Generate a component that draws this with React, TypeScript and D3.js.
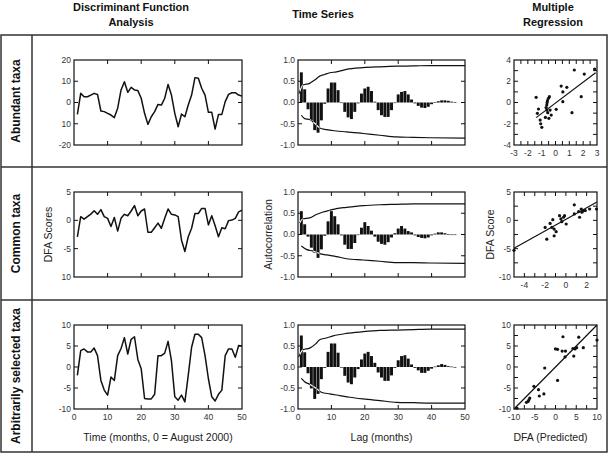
import React from 'react';
import * as d3 from 'd3';

const W = 610;
const H = 454;
const FONT = '"Liberation Sans", Arial, Helvetica, sans-serif';

// ---------- column / row headers ----------
const columnHeaders = [['Discriminant Function', 'Analysis'], ['Time Series'], ['Multiple', 'Regression']];
const rowLabels = ['Abundant taxa', 'Common taxa', 'Arbitrarily selected taxa'];

// ---------- DFA scores (month 1..50) ----------
const dfaAbundant = [-5.6, 4.3, 2.7, 2.7, 3.5, 4.3, 3.8, -4.0, -4.3, -5.1, -5.9, -7.1, -2.7, 5.9, 9.8, 4.8, 7.1, 5.9, 5.6, 2.0, -5.1, -10.3, -6.7, -4.3, -0.9, -1.2, 2.0, 8.5, 3.5, -5.1, -11.4, -5.4, -6.7, -1.2, 3.5, 11.7, 11.4, 6.7, 3.5, -4.6, -4.6, -12.5, -5.6, -5.6, 0.4, 3.8, 4.6, 4.6, 3.5, 3.0];
const dfaCommon = [-2.9, 0.65, 0.2, 0.65, 1.1, 1.7, 1.06, 1.9, 0.65, 0.35, -1.1, 0.5, -1.9, 0.35, 1.06, 0.8, 1.65, 2.6, 0.8, 1.65, 2.0, -2.1, -2.1, -1.3, -0.5, -1.4, 0.35, 2.0, 1.06, 0.95, 0.65, -3.5, -5.5, -2.9, -1.4, 1.2, 1.2, 2.1, 2.1, -0.8, 0.8, -0.95, -2.9, -1.3, -1.5, -0.05, 0.05, 0.35, 1.5, 1.8];
const dfaArbitrary = [-2.0, 3.9, 4.3, 3.6, 3.6, 4.5, 2.7, -3.2, -5.5, -6.7, -2.4, -3.2, 2.7, 4.4, 7.0, 3.1, 6.6, 7.2, 1.8, -0.4, -7.5, -7.6, -7.6, -6.5, 2.7, 2.7, 3.3, 6.1, 1.5, -7.1, -7.9, -6.7, -8.3, -2.0, 4.7, 7.8, 7.8, 7.0, 2.7, -2.8, -7.1, -8.1, -6.5, -5.5, 2.7, 4.3, 4.3, 2.3, 5.1, 5.0];

const dfaYDomains = [[-20, 20], [-10, 5], [-10, 10]];
const dfaYTicks = [[20, 10, 0, -10, -20], [5, 0, -5, -10], [10, 5, 0, -5, -10]];
const dfaYLabels = [['20', '10', '0', '10', '-20'], ['5', '0', '-5', '10'], ['10', '5', '0', '-5', '-10']];
const monthTicks = [0, 10, 20, 30, 40, 50];

// ---------- autocorrelation (lag 1..47) ----------
const acfAbundant = [0.71, 0.31, -0.16, -0.42, -0.65, -0.71, -0.42, -0.03, 0.33, 0.47, 0.47, 0.29, 0.0, -0.22, -0.35, -0.39, -0.22, -0.02, 0.21, 0.33, 0.37, 0.27, 0.02, -0.18, -0.30, -0.34, -0.34, -0.18, 0.0, 0.19, 0.25, 0.27, 0.19, 0.07, -0.02, -0.08, -0.12, -0.13, -0.10, -0.04, 0.01, 0.03, 0.05, 0.05, 0.04, 0.02, 0.01];
const acfCommon = [0.55, 0.24, -0.05, -0.31, -0.43, -0.55, -0.35, -0.03, 0.31, 0.55, 0.43, 0.24, -0.02, -0.24, -0.34, -0.34, -0.20, 0.0, 0.16, 0.29, 0.20, 0.09, -0.05, -0.17, -0.22, -0.24, -0.18, -0.07, 0.03, 0.14, 0.20, 0.14, 0.08, 0.05, -0.02, -0.06, -0.08, -0.09, -0.07, -0.02, 0.02, 0.05, 0.05, 0.03, 0.01, 0.0, 0.0];
const acfArbitrary = [0.75, 0.35, -0.15, -0.51, -0.76, -0.64, -0.29, -0.02, 0.36, 0.56, 0.56, 0.34, 0.0, -0.21, -0.37, -0.41, -0.25, -0.05, 0.18, 0.32, 0.36, 0.26, 0.10, -0.13, -0.25, -0.33, -0.33, -0.20, -0.02, 0.16, 0.26, 0.28, 0.20, 0.06, -0.02, -0.08, -0.14, -0.14, -0.09, -0.04, 0.01, 0.04, 0.07, 0.05, 0.02, 0.01, 0.0];

// confidence bands: lag positions and values
const upperLagsAbundant = [0.3, 1.5, 3.5, 5, 6.5, 8, 9.5, 11.5, 14.5, 19.5, 24.5, 29.5, 34.5, 39.5, 50];
const upperAbundant = [0.21, 0.41, 0.45, 0.53, 0.62, 0.66, 0.70, 0.72, 0.78, 0.82, 0.84, 0.855, 0.86, 0.87, 0.87];
const lowerLagsAbundant = [1, 2, 3.5, 5, 6.5, 8.5, 11.5, 14.5, 19.5, 24.5, 29.5, 34.5, 39.5, 50];
const lowerAbundant = [-0.30, -0.38, -0.40, -0.49, -0.60, -0.64, -0.67, -0.69, -0.73, -0.77, -0.81, -0.82, -0.83, -0.84];

const upperLagsCommon = [0.5, 1.5, 3.5, 5.5, 7.5, 9.5, 11.5, 14.5, 19.5, 24.5, 29.5, 34.5, 39.5, 50];
const upperCommon = [0.27, 0.37, 0.39, 0.47, 0.53, 0.57, 0.61, 0.64, 0.68, 0.70, 0.71, 0.72, 0.72, 0.72];
const lowerLagsCommon = [1, 2.5, 4.5, 6.5, 8.5, 11.5, 14.5, 19.5, 24.5, 29.5, 34.5, 39.5, 50];
const lowerCommon = [-0.27, -0.35, -0.39, -0.45, -0.48, -0.52, -0.57, -0.60, -0.63, -0.66, -0.66, -0.67, -0.68];

const upperLagsArbitrary = [0.2, 1.5, 3.5, 5.3, 6.5, 8.5, 10.5, 14.5, 19.5, 24.5, 29.5, 34.5, 39.5, 50];
const upperArbitrary = [0.24, 0.41, 0.45, 0.55, 0.65, 0.69, 0.74, 0.80, 0.84, 0.87, 0.88, 0.89, 0.90, 0.90];
const lowerLagsArbitrary = [1, 2, 3.5, 5.5, 7, 9.5, 12.5, 15.5, 19.5, 24.5, 29.5, 34.5, 39.5, 50];
const lowerArbitrary = [-0.27, -0.35, -0.41, -0.51, -0.60, -0.64, -0.68, -0.72, -0.76, -0.80, -0.84, -0.85, -0.86, -0.86];

const acfTicks = [1, 0.5, 0, -0.5, -1];
const acfLabels = ['1.0', '0.5', '0.0', '-0.5', '-1.0'];
const lagTicks = [0, 10, 20, 30, 40, 50];

// ---------- multiple regression scatter ----------
const scAbundantX = [-1.40, -1.23, -1.31, -1.11, -1.07, -0.99, -0.44, -0.51, -0.58, -0.61, -0.63, -0.68, -0.63, -0.56, -0.73, -0.48, -0.31, -0.39, 0.05, 0.41, 0.53, 0.82, 0.53, 1.36, 1.19, 1.86, 2.08, 2.83];
const scAbundantY = [0.49, -0.61, -1.02, -1.65, -2.00, -2.34, 0.55, 0.39, 0.17, -0.02, -0.24, -0.48, -0.71, -0.96, -1.40, -1.49, -1.18, -0.71, -0.64, 1.55, 1.00, 1.43, 0.08, 3.06, -0.96, 0.55, 2.68, 3.15];
const scCommonX = [-5.0, -2.0, -1.84, -1.26, -1.35, -1.13, -0.94, -1.13, -0.61, -0.48, -0.39, -0.23, -0.13, 0.03, 0.81, 0.81, 1.23, 1.32, 1.48, 1.55, 1.71, 1.87, 2.29, 2.95, -1.52];
const scCommonY = [-5.3, -1.25, -3.33, 0.12, -1.25, -1.55, -2.0, -2.74, 0.83, 0.24, -0.24, 0.54, 0.83, -0.65, 2.74, 1.13, 1.55, 0.54, 2.0, 1.43, 1.73, 1.73, 2.0, 2.0, -0.54];
const scArbitraryX = [-9.3, -7.0, -6.6, -6.4, -6.2, -5.2, -4.1, -3.9, -2.8, -2.6, 0.5, 0.0, 0.5, 1.6, 1.8, 2.4, 2.3, 4.2, 4.7, 5.1, 4.4, 5.6, 6.7, 10.0];
const scArbitraryY = [-9.8, -8.4, -8.2, -7.8, -7.4, -4.6, -5.4, -6.9, -6.4, -0.24, -3.2, 4.3, 4.2, 3.8, 7.2, 3.8, 2.4, 4.4, 4.3, 4.6, 2.6, 7.1, 4.6, 6.4];

// fitted lines: [x start, x end], [slope, intercept]
const fitRange = [[-1.4, 2.9], [-5, 3], [-10, 10]];
const fitCoef = [[0.98, -0.05], [1.02, 0.16], [1.0, 0.0]];

const scXDomains = [[-3, 3], [-5, 3], [-10, 10]];
const scYDomains = [[-4, 4], [-10, 5], [-10, 10]];
const scXTicks = [[-3, -2, -1, 0, 1, 2, 3], [-4, -2, 0, 2], [-10, -5, 0, 5, 10]];
const scYTicks = [[4, 2, 0, -2, -4], [5, 0, -5, -10], [10, 5, 0, -5, -10]];
const scXMinor = [0.5, 1, 2.5];
const scYMinor = [1, 2.5, 2.5];

// ---------- layout ----------
const COL_DFA = [74, 242];
const COL_TS = [298, 465];
const COL_SC = [514, 597];
const ROW_Y = [[60, 145], [192, 277], [325, 409]];
const ROW_BANDS = [[35, 167], [167, 300], [300, 452]];
const TICK = 4;
const TICK_FS = 8.5;
const TICK_COLOR = '#333';

type Num = number;

function Frame({ x0, x1, y0, y1 }: { x0: Num; x1: Num; y0: Num; y1: Num }) {
  return <rect x={x0} y={y0} width={x1 - x0} height={y1 - y0} fill="none" stroke="#111" strokeWidth={1.2} />;
}

function InnerTicks({ xs, ys, xt, yt, x0, x1, y0, y1 }: any) {
  return (
    <g stroke="#111" strokeWidth={1}>
      {xt.map((t: number, i: number) => (
        <g key={'x' + i}>
          <line x1={xs(t)} x2={xs(t)} y1={y0} y2={y0 + TICK} />
          <line x1={xs(t)} x2={xs(t)} y1={y1} y2={y1 - TICK} />
        </g>
      ))}
      {yt.map((t: number, i: number) => (
        <g key={'y' + i}>
          <line x1={x0} x2={x0 + TICK} y1={ys(t)} y2={ys(t)} />
          <line x1={x1} x2={x1 - TICK} y1={ys(t)} y2={ys(t)} />
        </g>
      ))}
    </g>
  );
}

function DFAPanel({ row, values }: { row: number; values: number[] }) {
  const [x0, x1] = COL_DFA;
  const [y0, y1] = ROW_Y[row];
  const xs = d3.scaleLinear().domain([0, 50]).range([x0, x1]);
  const ys = d3.scaleLinear().domain(dfaYDomains[row]).range([y1, y0]);
  const months = values.map((_, i) => i + 1);
  const line = d3.line<number>().x((_, i) => xs(months[i])).y((d) => ys(d));
  const showX = row === 2;
  return (
    <g>
      <path d={line(values) || ''} fill="none" stroke="#111" strokeWidth={1.5} strokeLinejoin="round" />
      <InnerTicks xs={xs} ys={ys} xt={monthTicks.filter((t) => t > 0 && t < 50)} yt={dfaYTicks[row].filter((t) => t !== dfaYDomains[row][0] && t !== dfaYDomains[row][1])} x0={x0} x1={x1} y0={y0} y1={y1} />
      <Frame x0={x0} x1={x1} y0={y0} y1={y1} />
      {dfaYTicks[row].map((t, i) => (
        <text key={i} x={x0 - 3} y={ys(t)} dy="0.35em" textAnchor="end" fontSize={TICK_FS} fill={TICK_COLOR}>{dfaYLabels[row][i]}</text>
      ))}
      {showX && monthTicks.map((t, i) => (
        <text key={i} x={xs(t)} y={y1 + 11} textAnchor="middle" fontSize={TICK_FS} fill={TICK_COLOR}>{t}</text>
      ))}
    </g>
  );
}

function TSPanel({ row, acf, upLags, up, loLags, lo }: { row: number; acf: number[]; upLags: number[]; up: number[]; loLags: number[]; lo: number[] }) {
  const [x0, x1] = COL_TS;
  const [y0, y1] = ROW_Y[row];
  const xs = d3.scaleLinear().domain([0, 50]).range([x0, x1]);
  const ys = d3.scaleLinear().domain([-1, 1]).range([y1, y0]);
  const lags = acf.map((_, i) => i + 1);
  const bw = xs(0.88) - xs(0);
  const band = d3.line<[number, number]>().x((d) => xs(d[0])).y((d) => ys(d[1])).curve(d3.curveMonotoneX);
  const upPath = band(upLags.map((l, i) => [l, up[i]] as [number, number])) || '';
  const loPath = band(loLags.map((l, i) => [l, lo[i]] as [number, number])) || '';
  const clipId = 'bars' + row;
  const bars = acf.map((v, i) => ({ x: xs(lags[i]) - bw / 2, y: ys(Math.max(0, v)), h: Math.max(0.6, Math.abs(ys(v) - ys(0))) }));
  return (
    <g>
      <defs>
        <clipPath id={clipId}>
          {bars.map((b, i) => <rect key={i} x={b.x} y={b.y} width={bw} height={b.h} />)}
        </clipPath>
      </defs>
      {bars.map((b, i) => <rect key={i} x={b.x} y={b.y} width={bw} height={b.h} fill="#111" />)}
      <path d={upPath} fill="none" stroke="#111" strokeWidth={1.2} />
      <path d={loPath} fill="none" stroke="#111" strokeWidth={1.2} />
      <g clipPath={`url(#${clipId})`}>
        <path d={upPath} fill="none" stroke="#fff" strokeWidth={1.2} />
        <path d={loPath} fill="none" stroke="#fff" strokeWidth={1.2} />
      </g>
      <InnerTicks xs={xs} ys={ys} xt={lagTicks.filter((t) => t > 0 && t < 50)} yt={[0.5, 0, -0.5]} x0={x0} x1={x1} y0={y0} y1={y1} />
      <Frame x0={x0} x1={x1} y0={y0} y1={y1} />
      {acfTicks.map((t, i) => (
        <text key={i} x={x0 - 3} y={ys(t)} dy="0.35em" textAnchor="end" fontSize={TICK_FS} fill={TICK_COLOR}>{acfLabels[i]}</text>
      ))}
      {row === 2 && lagTicks.map((t, i) => (
        <text key={i} x={xs(t)} y={y1 + 11} textAnchor="middle" fontSize={TICK_FS} fill={TICK_COLOR}>{t}</text>
      ))}
    </g>
  );
}

function ScatterPanel({ row, xv, yv }: { row: number; xv: number[]; yv: number[] }) {
  const [x0, x1] = COL_SC;
  const [y0, y1] = ROW_Y[row];
  const xd = scXDomains[row];
  const yd = scYDomains[row];
  const xs = d3.scaleLinear().domain(xd).range([x0, x1]);
  const ys = d3.scaleLinear().domain(yd).range([y1, y0]);
  const xm = d3.range(xd[0] + scXMinor[row], xd[1] - 1e-6, scXMinor[row]);
  const ym = d3.range(yd[0] + scYMinor[row], yd[1] - 1e-6, scYMinor[row]);
  const [fa, fb] = fitRange[row];
  const [m, c] = fitCoef[row];
  return (
    <g>
      <InnerTicks xs={xs} ys={ys} xt={xm} yt={ym} x0={x0} x1={x1} y0={y0} y1={y1} />
      <line x1={xs(fa)} y1={ys(m * fa + c)} x2={xs(fb)} y2={ys(m * fb + c)} stroke="#111" strokeWidth={1.2} />
      {xv.map((x, i) => <circle key={i} cx={xs(x)} cy={ys(yv[i])} r={1.6} fill="#111" />)}
      <Frame x0={x0} x1={x1} y0={y0} y1={y1} />
      {scYTicks[row].map((t, i) => (
        <text key={i} x={x0 - 3} y={ys(t)} dy="0.35em" textAnchor="end" fontSize={TICK_FS} fill={TICK_COLOR}>{t}</text>
      ))}
      {scXTicks[row].map((t, i) => (
        <text key={i} x={xs(t)} y={y1 + 11} textAnchor="middle" fontSize={TICK_FS} fill={TICK_COLOR}>{t}</text>
      ))}
    </g>
  );
}

export default function App() {
  const dfa = [dfaAbundant, dfaCommon, dfaArbitrary];
  const acf = [acfAbundant, acfCommon, acfArbitrary];
  const upL = [upperLagsAbundant, upperLagsCommon, upperLagsArbitrary];
  const up = [upperAbundant, upperCommon, upperArbitrary];
  const loL = [lowerLagsAbundant, lowerLagsCommon, lowerLagsArbitrary];
  const lo = [lowerAbundant, lowerCommon, lowerArbitrary];
  const scX = [scAbundantX, scCommonX, scArbitraryX];
  const scY = [scAbundantY, scCommonY, scArbitraryY];
  const headerX = [131, 323, 553];
  return (
    <svg width={W} height={H} style={{ position: 'absolute', left: 0, top: 0, background: '#fff' }} fontFamily={FONT}>
      <rect x={0} y={0} width={W} height={H} fill="#fff" />
      {columnHeaders.map((lines, ci) => (
        <text key={ci} x={headerX[ci]} textAnchor="middle" fontSize={11} fontWeight="bold" fill="#111">
          {lines.map((s, li) => (
            <tspan key={li} x={headerX[ci]} y={lines.length === 1 ? 18 : 11 + li * 14.5}>{s}</tspan>
          ))}
        </text>
      ))}
      {/* outer frame and dividers */}
      <rect x={1} y={35} width={606} height={417} fill="none" stroke="#333" strokeWidth={1.5} />
      <line x1={32} x2={32} y1={35} y2={452} stroke="#333" strokeWidth={1.5} />
      <line x1={1} x2={607} y1={167} y2={167} stroke="#333" strokeWidth={1.5} />
      <line x1={1} x2={607} y1={300} y2={300} stroke="#333" strokeWidth={1.5} />
      {rowLabels.map((s, i) => {
        const cy = (ROW_BANDS[i][0] + ROW_BANDS[i][1]) / 2;
        return (
          <text key={i} transform={`translate(20,${cy}) rotate(-90)`} textAnchor="middle" fontSize={12} fontWeight="bold" fill="#111">{s}</text>
        );
      })}
      {[0, 1, 2].map((r) => (
        <g key={r}>
          <DFAPanel row={r} values={dfa[r]} />
          <TSPanel row={r} acf={acf[r]} upLags={upL[r]} up={up[r]} loLags={loL[r]} lo={lo[r]} />
          <ScatterPanel row={r} xv={scX[r]} yv={scY[r]} />
        </g>
      ))}
      {/* axis titles */}
      <text transform={`translate(52,${(ROW_Y[1][0] + ROW_Y[1][1]) / 2}) rotate(-90)`} textAnchor="middle" fontSize={10.5} fill="#222">DFA Scores</text>
      <text transform={`translate(272,${(ROW_Y[1][0] + ROW_Y[1][1]) / 2}) rotate(-90)`} textAnchor="middle" fontSize={10.5} fill="#222">Autocorrelation</text>
      <text transform={`translate(494,${(ROW_Y[1][0] + ROW_Y[1][1]) / 2}) rotate(-90)`} textAnchor="middle" fontSize={10.5} fill="#222">DFA Score</text>
      <text x={(COL_DFA[0] + COL_DFA[1]) / 2} y={441} textAnchor="middle" fontSize={10.5} fill="#222">Time (months, 0 = August 2000)</text>
      <text x={(COL_TS[0] + COL_TS[1]) / 2} y={441} textAnchor="middle" fontSize={10.5} fill="#222">Lag (months)</text>
      <text x={(COL_SC[0] + COL_SC[1]) / 2 - 5} y={441} textAnchor="middle" fontSize={10.5} fill="#222">DFA (Predicted)</text>
    </svg>
  );
}
